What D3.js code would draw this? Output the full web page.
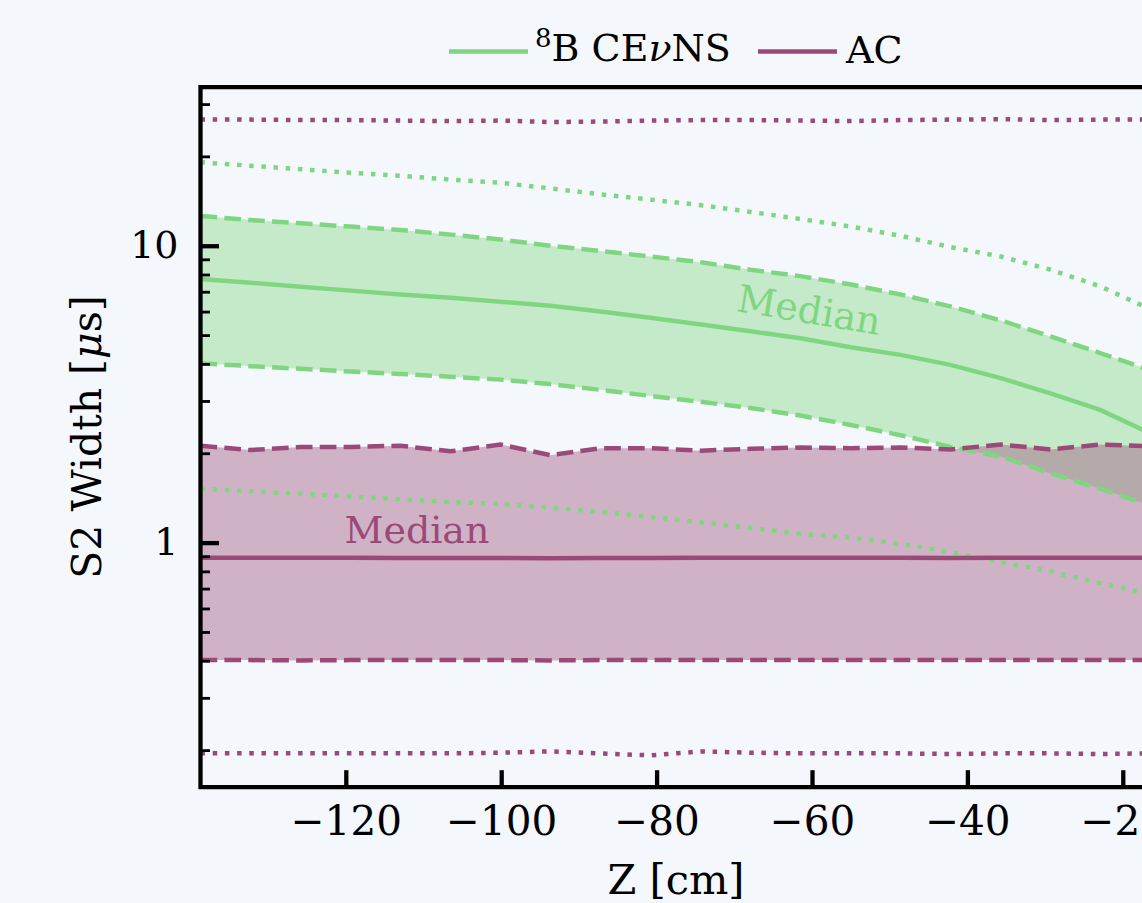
<!DOCTYPE html>
<html>
<head>
<meta charset="utf-8">
<script src="https://cdn.jsdelivr.net/npm/d3@7"></script>
<style>
body { margin: 0; background: #f4f7fc; }
svg { display: block; font-family: "DejaVu Serif", serif; }
</style>
</head>
<body>
<svg id="chart" width="1142" height="903"></svg>
<script>

//------------------------------------------------------------------------------
// Data (S2 width in microseconds per Z bin)

var zBins = [-138.7, -132.3, -125.8, -119.4, -113.0, -106.5, -100.1, -93.7, -87.2, -80.8,
	-74.3, -67.9, -61.5, -55.0, -48.6, -42.2, -35.7, -29.3, -22.9, -16.4];

var cevnsHi2 = [19.1, 18.6, 18.1, 17.6, 17.2, 16.7, 16.3, 15.6, 14.9, 14.3,
	13.7, 13.0, 12.3, 11.6, 10.8, 9.9, 9.2, 8.3, 7.3, 6.1];
var cevnsHi1 = [12.6, 12.2, 11.9, 11.6, 11.3, 10.9, 10.5, 10.0, 9.6, 9.2,
	8.8, 8.3, 7.9, 7.4, 6.85, 6.25, 5.6, 4.95, 4.35, 3.8];
var cevnsMed = [7.73, 7.50, 7.28, 7.06, 6.85, 6.68, 6.48, 6.28, 6.0, 5.72,
	5.43, 5.15, 4.88, 4.55, 4.29, 3.97, 3.58, 3.18, 2.80, 2.33];
var cevnsLo1 = [4.02, 3.93, 3.85, 3.77, 3.70, 3.62, 3.54, 3.42, 3.27, 3.12,
	2.98, 2.84, 2.68, 2.49, 2.30, 2.10, 1.95, 1.71, 1.52, 1.33];
var cevnsLo2 = [1.52, 1.49, 1.46, 1.43, 1.40, 1.37, 1.35, 1.31, 1.27, 1.22,
	1.17, 1.12, 1.07, 1.04, 0.99, 0.93, 0.86, 0.80, 0.73, 0.67];

var acHi2 = [26.6, 26.6, 26.5, 26.5, 26.4, 26.3, 26.4, 26.1, 26.2, 26.4,
	26.5, 26.5, 26.4, 26.3, 26.5, 26.6, 26.7, 26.5, 26.6, 26.6];
var acHi1 = [2.12, 2.05, 2.10, 2.10, 2.12, 2.03, 2.14, 1.97, 2.08, 2.08,
	2.04, 2.07, 2.09, 2.08, 2.09, 2.06, 2.14, 2.06, 2.14, 2.11];
var acMed = [0.89, 0.89, 0.89, 0.89, 0.888, 0.888, 0.888, 0.885, 0.887, 0.888,
	0.889, 0.889, 0.89, 0.89, 0.889, 0.888, 0.889, 0.889, 0.889, 0.889];
var acLo1 = [0.402, 0.402, 0.401, 0.402, 0.402, 0.402, 0.402, 0.401, 0.402, 0.402,
	0.402, 0.402, 0.402, 0.402, 0.402, 0.402, 0.402, 0.402, 0.402, 0.402];
var acLo2 = [0.195, 0.195, 0.195, 0.195, 0.195, 0.195, 0.196, 0.198, 0.195, 0.192,
	0.198, 0.196, 0.195, 0.195, 0.195, 0.194, 0.195, 0.195, 0.194, 0.195];

var xTicks = [-120, -100, -80, -60, -40, -20];
var yMajor = [1, 10];
var yMinor = [0.2, 0.3, 0.4, 0.5, 0.6, 0.7, 0.8, 0.9, 2, 3, 4, 5, 6, 7, 8, 9, 20, 30];

//------------------------------------------------------------------------------
// Setup

var GREEN = '#80d680';
var PURPLE = '#9b4a78';
var LW = 4.5;

var svg = d3.select('#chart');
var plot = { left: 200.5, top: 87.2, bottom: 787.2 };

var x = d3.scaleLinear().domain([-138.7, -10]).range([plot.left, plot.left + 128.7 * 7.77]);
var y = d3.scaleLog().domain([0.15, 34.2]).range([plot.bottom, plot.top]);

svg.append('clipPath').attr('id', 'clip')
	.append('rect')
	.attr('x', plot.left).attr('y', plot.top)
	.attr('width', 1142 - plot.left).attr('height', plot.bottom - plot.top);

var body = svg.append('g').attr('clip-path', 'url(#clip)');

function rows(arr) {
	return zBins.map(function (z, i) { return { z: z, v: arr[i] }; });
}

function band(lo, hi) {
	return zBins.map(function (z, i) { return { z: z, lo: lo[i], hi: hi[i] }; });
}

var line = d3.line()
	.x(function (d) { return x(d.z); })
	.y(function (d) { return y(d.v); });

var area = d3.area()
	.x(function (d) { return x(d.z); })
	.y0(function (d) { return y(d.lo); })
	.y1(function (d) { return y(d.hi); });

//------------------------------------------------------------------------------
// Bands and lines

body.append('path').datum(band(cevnsLo1, cevnsHi1))
	.attr('d', area).attr('fill', GREEN).attr('fill-opacity', 0.4);
body.append('path').datum(band(acLo1, acHi1))
	.attr('d', area).attr('fill', PURPLE).attr('fill-opacity', 0.4);

var series = [
	{ data: cevnsHi2, color: GREEN, dash: '4.5,7.7' },
	{ data: cevnsHi1, color: GREEN, dash: '16.7,7.2' },
	{ data: cevnsMed, color: GREEN, dash: null },
	{ data: cevnsLo1, color: GREEN, dash: '16.7,7.2' },
	{ data: cevnsLo2, color: GREEN, dash: '4.5,7.7' },
	{ data: acHi2, color: PURPLE, dash: '4.5,7.7' },
	{ data: acHi1, color: PURPLE, dash: '16.7,7.2' },
	{ data: acMed, color: PURPLE, dash: null },
	{ data: acLo1, color: PURPLE, dash: '16.7,7.2' },
	{ data: acLo2, color: PURPLE, dash: '4.5,7.7' }
];

series.forEach(function (s) {
	body.append('path').datum(rows(s.data))
		.attr('d', line)
		.attr('fill', 'none')
		.attr('stroke', s.color)
		.attr('stroke-width', LW)
		.attr('stroke-dasharray', s.dash);
});

// median labels
body.append('text')
	.attr('x', 417).attr('y', 543)
	.attr('text-anchor', 'middle')
	.attr('font-size', 38)
	.attr('fill', PURPLE)
	.text('Median');

body.append('text')
	.attr('transform', 'translate(807,323) rotate(9.5)')
	.attr('text-anchor', 'middle')
	.attr('font-size', 38)
	.attr('fill', GREEN)
	.text('Median');

//------------------------------------------------------------------------------
// Axes

var xAxis = svg.append('g')
	.attr('transform', 'translate(0,' + plot.bottom + ')')
	.call(d3.axisBottom(x).tickValues(xTicks).tickSize(-17).tickPadding(19));

var yAxis = svg.append('g')
	.attr('transform', 'translate(' + plot.left + ',0)')
	.call(d3.axisLeft(y).tickValues(yMajor).tickFormat(d3.format('d')).tickSize(-18.5).tickPadding(22));

var yMinorAxis = svg.append('g')
	.attr('transform', 'translate(' + plot.left + ',0)')
	.call(d3.axisLeft(y).tickValues(yMinor).tickFormat('').tickSize(-9.5));

[xAxis, yAxis, yMinorAxis].forEach(function (g) {
	g.select('.domain').remove();
	g.selectAll('text').attr('font-family', '"DejaVu Serif", serif').attr('font-size', 38).attr('fill', '#000');
});
xAxis.selectAll('text').attr('font-size', 40.5);
xAxis.selectAll('line').attr('stroke', '#000').attr('stroke-width', 4.3);
yAxis.selectAll('line').attr('stroke', '#000').attr('stroke-width', 4.3);
yMinorAxis.selectAll('line').attr('stroke', '#000').attr('stroke-width', 2.8);

// spines
svg.append('path')
	.attr('d', 'M1142,' + plot.top + 'H' + plot.left + 'V' + plot.bottom + 'H1142')
	.attr('fill', 'none')
	.attr('stroke', '#000')
	.attr('stroke-width', 4.3)
	.attr('stroke-linecap', 'square');

// axis titles
svg.append('text')
	.attr('x', 676).attr('y', 894)
	.attr('text-anchor', 'middle')
	.attr('font-size', 41.5)
	.text('Z [cm]');

svg.append('text')
	.attr('transform', 'translate(101,437) rotate(-90)')
	.attr('text-anchor', 'middle')
	.attr('font-size', 41)
	.call(function (t) {
		t.append('tspan').text('S2 Width [');
		t.append('tspan').attr('font-style', 'italic').text('\u03bc');
		t.append('tspan').text('s]');
	});

//------------------------------------------------------------------------------
// Legend

var legend = svg.append('g');

legend.append('line')
	.attr('x1', 449).attr('x2', 528).attr('y1', 51.5).attr('y2', 51.5)
	.attr('stroke', GREEN).attr('stroke-width', LW);
legend.append('text')
	.attr('x', 535).attr('y', 61)
	.attr('font-size', 38)
	.call(function (t) {
		t.append('tspan').attr('font-size', 26).attr('dy', -14).text('8');
		t.append('tspan').attr('dy', 14).text('B CE');
		t.append('tspan').attr('font-style', 'italic').text('\u03bd');
		t.append('tspan').text('NS');
	});

legend.append('line')
	.attr('x1', 758).attr('x2', 837).attr('y1', 51.5).attr('y2', 51.5)
	.attr('stroke', PURPLE).attr('stroke-width', LW);
legend.append('text')
	.attr('x', 846).attr('y', 63)
	.attr('font-size', 38)
	.text('AC');

</script>
</body>
</html>
